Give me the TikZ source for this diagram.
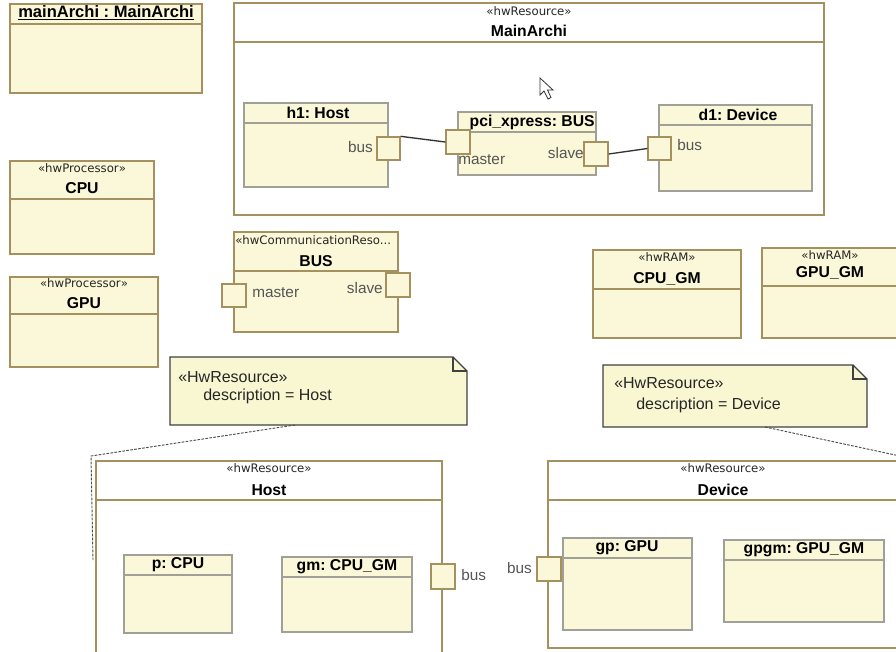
\documentclass[tikz,border=0pt]{standalone}
\usepackage{fontspec}
\setmainfont{Liberation Sans}
\newfontfamily\stfont{DejaVu Sans}
\usetikzlibrary{fit}
\definecolor{boxfill}{RGB}{250,248,216}
\definecolor{boxline}{RGB}{165,145,95}
\definecolor{innerline}{RGB}{160,160,150}
\definecolor{notefill}{RGB}{249,247,210}
\definecolor{lbl}{RGB}{85,85,85}
\frenchspacing
\begin{document}
\begin{tikzpicture}[x=0.75pt,y=-0.75pt,
  box/.style={draw=boxline, fill=boxfill, inner sep=0pt, line width=1pt},
  ibox/.style={draw=innerline, fill=boxfill, inner sep=0pt, line width=1pt},
  frame/.style={draw=boxline, fill=white, inner sep=0pt, line width=1pt},
  port/.style={draw=boxline, fill=boxfill, inner sep=0pt, line width=1pt},
  hline/.style={draw=boxline, line width=1pt},
  ihline/.style={draw=innerline, line width=1pt},
  stereo/.style={font=\stfont\fontsize{8.8}{9}\selectfont, text=black!85, inner sep=0pt},
  ttl/.style={font=\bfseries\fontsize{11.8}{13}\selectfont, inner sep=0pt},
  plbl/.style={font=\fontsize{11.5}{13}\selectfont, text=lbl, inner sep=0pt},
  ntxt/.style={font=\fontsize{12}{14}\selectfont, text=black!85, inner sep=0pt, anchor=west},
  notebody/.style={draw=black!75, fill=notefill, line width=0.8pt},
  conn/.style={draw=black!80, line width=1pt},
  nconn/.style={draw=black!70, line width=0.7pt, dash pattern=on 2pt off 1pt}]
\useasboundingbox (0,0) rectangle (896,651);

% mainArchi instance
\node[box, fit={(10,4) (202,93)}] (mainA) {};
\draw[hline] (10,24) -- (202,24);
\node[ttl, font=\bfseries\fontsize{12.4}{13}\selectfont] (mainAt) at (106,13) {\underline{mainArchi : MainArchi}};

% MainArchi frame
\node[frame, fit={(234,3) (824,215)}] (MA) {};
\draw[hline] (234,42) -- (824,42);
\node[stereo] (MAs) at (529,11) {«hwResource»};
\node[ttl] (MAt) at (529,31) {MainArchi};

% h1: Host
\node[ibox, fit={(244,103) (388,187)}] (h1) {};
\draw[ihline] (244,123) -- (388,123);
\node[ttl] (h1t) at (318,113) {h1: Host};
\node[port, fit={(377,137) (400,160)}] (h1bus) {};
\node[plbl, anchor=east] (h1busl) at (373,147) {bus};

% pci_xpress: BUS
\node[ibox, fit={(458,112) (596,175)}] (pci) {};
\draw[ihline] (458,132) -- (596,132);
\node[ttl, anchor=east] (pcit) at (595,122) {pci\_xpress: BUS};
\node[port, fit={(446,130) (470,154)}] (pmaster) {};
\node[plbl, anchor=west] (pmasterl) at (458,160) {master};
\node[port, fit={(584,142) (608,166)}] (pslave) {};
\node[plbl, anchor=east] (pslavel) at (584,153) {slave};

% d1: Device
\node[ibox, fit={(659,105) (812,191)}] (d1) {};
\node[ttl] (d1t) at (738,115) {d1: Device};
\draw[ihline] (659,125) -- (812,125);
\node[port, fit={(648,137) (671,160)}] (d1bus) {};
\node[plbl, anchor=west] (d1busl) at (677,145) {bus};

\draw[conn] (h1bus.north east) -- (pmaster.west);
\draw[conn] (pslave.east) -- (d1bus.west);

% cursor
\draw[fill=white, draw=black!80, line width=0.6pt]
  (540,78) -- (540,95) -- (544,91) -- (548,99) -- (551,97.5) -- (547.5,90) -- (553,90) -- cycle;

% CPU
\node[box, fit={(10,161) (154,254)}] (cpu) {};
\draw[hline] (10,199) -- (154,199);
\node[stereo] (cpus) at (82,168) {«hwProcessor»};
\node[ttl] (cput) at (82,188) {CPU};

% GPU
\node[box, fit={(10,277) (158,367)}] (gpu) {};
\draw[hline] (10,314) -- (158,314);
\node[stereo] (gpus) at (84,283) {«hwProcessor»};
\node[ttl] (gput) at (84,303) {GPU};

% BUS
\node[box, fit={(234,232) (398,332)}] (bus) {};
\draw[hline] (234,271) -- (398,271);
\node[stereo, anchor=west] (buss) at (235,240) {«hwCommunicationReso...};
\node[ttl] (bust) at (316,261) {BUS};
\node[port, fit={(222,284) (246,307)}] (bmaster) {};
\node[plbl, anchor=west] (bmasterl) at (252,293) {master};
\node[port, fit={(386,273) (410,297)}] (bslave) {};
\node[plbl, anchor=east] (bslavel) at (383,288) {slave};

% CPU_GM
\node[box, fit={(593,250) (741,338)}] (cpugm) {};
\draw[hline] (593,289) -- (741,289);
\node[stereo] (cpugms) at (667,257) {«hwRAM»};
\node[ttl] (cpugmt) at (667,279) {CPU\_GM};

% GPU_GM
\node[box, fit={(762,248) (910,338)}] (gpugm) {};
\draw[hline] (762,286) -- (910,286);
\node[stereo] (gpugms) at (830,255) {«hwRAM»};
\node[ttl] (gpugmt) at (830,273) {GPU\_GM};

% Note Host
\path[notebody] (170,357) -- (453,357) -- (467,371) -- (467,425) -- (170,425) -- cycle;
\draw[black!75, line width=0.8pt] (453,357) -- (453,371) -- (467,371);
\node[ntxt] (nh1) at (178,377) {«HwResource»};
\node[ntxt] (nh2) at (203,396) {description = Host};
\coordinate (nhA) at (295,425);
\coordinate (nhB) at (91,456);
\coordinate (nhC) at (93,560);
\draw[nconn] (nhA) -- (nhB) -- (nhC);

% Note Device
\path[notebody] (603,365) -- (853,365) -- (867,379) -- (867,427) -- (603,427) -- cycle;
\draw[black!75, line width=0.8pt] (853,365) -- (853,379) -- (867,379);
\node[ntxt] (nd1) at (614,383) {«HwResource»};
\node[ntxt] (nd2) at (636,405) {description = Device};
\coordinate (ndA) at (765,427);
\coordinate (ndB) at (900,456);
\draw[nconn] (ndA) -- (ndB);

% Host
\node[frame, fit={(96,461) (442,665)}] (host) {};
\draw[hline] (96,500) -- (442,500);
\node[stereo] (hosts) at (269,468) {«hwResource»};
\node[ttl] (hostt) at (269,490) {Host};
\node[ibox, fit={(124,555) (232,633)}] (pcpu) {};
\draw[ihline] (124,575) -- (232,575);
\node[ttl] (pcput) at (178,565) {p: CPU};
\node[ibox, fit={(282,557) (412,632)}] (gm) {};
\draw[ihline] (282,577) -- (412,577);
\node[ttl] (gmt) at (347,567) {gm: CPU\_GM};
\node[port, fit={(431,564) (455,589)}] (hbus) {};
\node[plbl, anchor=west] (hbusl) at (461,575) {bus};

% Device
\node[frame, fit={(548,461) (910,648)}] (dev) {};
\draw[hline] (548,500) -- (910,500);
\node[stereo] (devs) at (723,468) {«hwResource»};
\node[ttl] (devt) at (723,490) {Device};
\node[ibox, fit={(563,538) (692,630)}] (gp) {};
\draw[ihline] (563,558) -- (692,558);
\node[ttl] (gpt) at (627,548) {gp: GPU};
\node[ibox, fit={(724,540) (884,622)}] (gpgm) {};
\draw[ihline] (724,560) -- (884,560);
\node[ttl] (gpgmt) at (804,550) {gpgm: GPU\_GM};
\node[port, fit={(537,557) (561,581)}] (dbus) {};
\node[plbl, anchor=east] (dbusl) at (532,568) {bus};
\end{tikzpicture}
\end{document}
